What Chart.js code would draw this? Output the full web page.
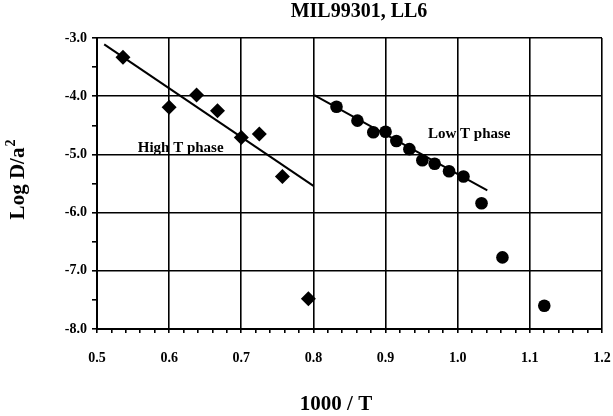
<!DOCTYPE html>
<html>
<head>
<meta charset="utf-8">
<title>MIL99301, LL6</title>
<script src="https://cdn.jsdelivr.net/npm/chart.js@4/dist/chart.umd.min.js"></script>
<style>
  html, body { margin: 0; padding: 0; background: #fff; }
  #wrap { width: 613px; height: 416px; }
</style>
</head>
<body>
<div id="wrap"><canvas id="chart" width="613" height="416"></canvas></div>
<script>
// ── Data ─────────────────────────────────────────────────────────
const highX = [0.536, 0.600, 0.638, 0.667, 0.700, 0.725, 0.757, 0.793];
const highY = [-3.33, -4.19, -3.98, -4.25, -4.71, -4.65, -5.38, -7.48];
const lowX = [0.832, 0.861, 0.883, 0.900, 0.915, 0.933, 0.951, 0.968, 0.988, 1.008, 1.033, 1.062, 1.120];
const lowY = [-4.18, -4.42, -4.62, -4.61, -4.77, -4.91, -5.10, -5.16, -5.29, -5.38, -5.84, -6.77, -7.60];

// fitted lines, end points
const highFitX = [0.51, 0.80];
const highFitY = [-3.11, -5.54];
const lowFitX = [0.801, 1.041];
const lowFitY = [-3.98, -5.62];

// axis ranges / ticks
const xRange = [0.5, 1.2];
const yRange = [-8.0, -3.0];
const xMinorStep = 0.02;
const yMinorStep = 0.5;

// in-plot labels, anchored in data units
const phaseLabels = [
  { text: 'High T phase', x: 0.616, y: -4.89 },
  { text: 'Low T phase', x: 1.016, y: -4.655 },
];

const SERIF = '"Liberation Serif", "Times New Roman", serif';
const pts = (xs, ys) => xs.map((x, i) => ({ x, y: ys[i] }));
const isMajor = (v, step) => Math.abs(v / step - Math.round(v / step)) < 1e-6;

// ── Text plugin: titles + phase labels ──────────────────────────
const textPlugin = {
  id: 'texts',
  afterDraw(chart) {
    const { ctx, scales } = chart;
    ctx.save();
    ctx.fillStyle = '#000';

    // title
    ctx.font = 'bold 20px ' + SERIF;
    ctx.textAlign = 'center';
    ctx.textBaseline = 'alphabetic';
    ctx.fillText('MIL99301, LL6', 359, 17);

    // x title
    ctx.font = 'bold 21px ' + SERIF;
    ctx.fillText('1000 / T', 336, 410);

    // y title with superscript
    ctx.translate(24, 180);
    ctx.rotate(-Math.PI / 2);
    ctx.font = 'bold 21px ' + SERIF;
    const main = 'Log D/a';
    const w1 = ctx.measureText(main).width;
    ctx.font = 'bold 14px ' + SERIF;
    const w2 = ctx.measureText('2').width;
    const start = -(w1 + w2) / 2;
    ctx.textAlign = 'left';
    ctx.font = 'bold 21px ' + SERIF;
    ctx.fillText(main, start, 0);
    ctx.font = 'bold 14px ' + SERIF;
    ctx.fillText('2', start + w1 + 1, -9);
    ctx.setTransform(1, 0, 0, 1, 0, 0);

    // phase labels
    ctx.font = 'bold 15px ' + SERIF;
    ctx.textAlign = 'center';
    ctx.textBaseline = 'middle';
    phaseLabels.forEach(l => {
      ctx.fillText(l.text, scales.x.getPixelForValue(l.x), scales.y.getPixelForValue(l.y));
    });
    ctx.restore();
  },
};

// ── Chart ────────────────────────────────────────────────────────
new Chart(document.getElementById('chart'), {
  type: 'scatter',
  data: {
    datasets: [
      {
        label: 'High T fit',
        data: pts(highFitX, highFitY),
        showLine: true,
        borderColor: '#000',
        borderWidth: 2,
        pointRadius: 0,
      },
      {
        label: 'Low T fit',
        data: pts(lowFitX, lowFitY),
        showLine: true,
        borderColor: '#000',
        borderWidth: 2,
        pointRadius: 0,
      },
      {
        label: 'High T',
        data: pts(highX, highY),
        pointStyle: 'rectRot',
        pointRadius: 7.5,
        backgroundColor: '#000',
        borderColor: '#000',
        borderWidth: 0,
      },
      {
        label: 'Low T',
        data: pts(lowX, lowY),
        pointStyle: 'circle',
        pointRadius: 6.3,
        backgroundColor: '#000',
        borderColor: '#000',
        borderWidth: 0,
      },
    ],
  },
  options: {
    responsive: false,
    animation: false,
    devicePixelRatio: 1,
    layout: { padding: { left: 0, right: 11, top: 38, bottom: 0 } },
    plugins: {
      legend: { display: false },
      title: { display: false },
      tooltip: { enabled: false },
    },
    scales: {
      x: {
        type: 'linear',
        min: xRange[0],
        max: xRange[1],
        afterFit: s => {
          s.height = 87;
          // tick padding is only meant to push labels down, not inwards
          s.paddingLeft = 0;
          s.paddingRight = 0;
        },
        border: { color: '#000', width: 2 },
        grid: {
          color: c => (isMajor(c.tick.value, 0.1) ? '#000' : 'rgba(0,0,0,0)'),
          tickColor: '#000',
          lineWidth: 1.6,
          tickLength: 4,
        },
        ticks: {
          stepSize: xMinorStep,
          autoSkip: false,
          maxRotation: 0,
          padding: 17,
          color: '#000',
          font: { family: SERIF, size: 14, weight: 'bold' },
          callback: v => (isMajor(v, 0.1) ? v.toFixed(1) : ''),
        },
      },
      y: {
        type: 'linear',
        min: yRange[0],
        max: yRange[1],
        afterFit: s => { s.width = 97; },
        border: { color: '#000', width: 2 },
        grid: {
          color: c => (isMajor(c.tick.value, 1) ? '#000' : 'rgba(0,0,0,0)'),
          tickColor: '#000',
          lineWidth: 1.6,
          tickLength: 5,
        },
        ticks: {
          stepSize: yMinorStep,
          autoSkip: false,
          padding: 5,
          color: '#000',
          font: { family: SERIF, size: 14, weight: 'bold' },
          callback: v => (isMajor(v, 1) ? v.toFixed(1) : ''),
        },
      },
    },
  },
  plugins: [textPlugin],
});
</script>
</body>
</html>
